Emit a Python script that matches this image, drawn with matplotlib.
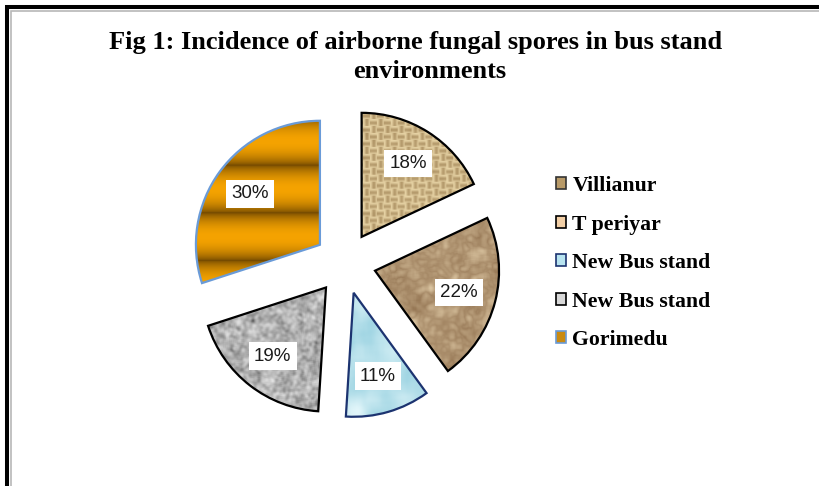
import numpy as np
import matplotlib.pyplot as plt
from matplotlib.patches import Patch, Rectangle
from matplotlib.colors import to_rgb
from matplotlib.transforms import IdentityTransform

title_1 = "Fig 1: Incidence of airborne fungal spores in bus stand"
title_2 = "environments"
sites = ["Villianur", "T periyar", "New Bus stand", "New Bus stand", "Gorimedu"]
shares = [18, 22, 11, 19, 30]

edge_cols = ["black", "black", "#1c3370", "black", "#6a9bd8"]
key_cols = ["#b89a68", "#f2cfa6", "#b8e4f0", "#d8d8d8", "#c98a12"]

W, H = 819, 486
fig = plt.figure(figsize=(W / 100, H / 100), dpi=100)
ax = fig.add_axes([0, 0, 1, 1])

wedges, _, pcts = ax.pie(shares, center=(345, H - 263), radius=124,
                         startangle=90, counterclock=False,
                         explode=[31] * len(shares),
                         autopct=lambda p: "%.0f%%" % p, pctdistance=0.7,
                         wedgeprops=dict(lw=1.6))

# textures (just decoration, fixed seed)
rng = np.random.default_rng(7)
n = 250
yy, xx = np.mgrid[0:n, 0:n]


def blur(a, k):
    out = a.copy()
    for _ in range(2):
        out = sum(np.roll(out, d, axis=1) for d in range(-k, k + 1)) / (2 * k + 1)
        out = sum(np.roll(out, d, axis=0) for d in range(-k, k + 1)) / (2 * k + 1)
    return out


def norm(a):
    return (a - a.min()) / (a.max() - a.min())


def tint(t, dark, light):
    d = np.array(to_rgb(dark))
    l = np.array(to_rgb(light))
    return np.clip(d + (l - d) * t[..., None], 0, 1)


noise = rng.random((n, n))
checker = ((xx // 7 + yy // 7) % 2) == 0
weave = np.where(checker, np.cos(2 * np.pi * yy / 7), np.cos(2 * np.pi * xx / 7))
burlap = tint(np.clip(0.62 + 0.22 * weave + 0.5 * (blur(noise, 2) - 0.5), 0, 1),
              "#8a6a3c", "#f4e2b4")

n2 = rng.random((n, n))
crumple = norm(0.6 * blur(n2, 5) + 0.4 * np.abs(blur(n2, 2) - 0.5)) ** 0.75
paper = tint(crumple, "#8e6e4c", "#ead6b2")

n3 = rng.random((n, n))
water = tint(norm(blur(n3, 7)), "#8ccbdc", "#e2f6fa")

n4 = rng.random((n, n))
granite = tint(norm(0.5 * blur(n4, 1) + 0.5 * blur(n4, 4)) ** 0.7, "#555555", "#f0f0f0")

stripe = 0.5 + 0.5 * np.cos(2 * np.pi * (yy - 20) / 48)
gold = tint(stripe ** 0.35, "#744a00", "#f5a300")

textures = [burlap, paper, water, granite, gold]

for w, tex, ec in zip(wedges, textures, edge_cols):
    cx, cy = w.center
    r = w.r
    im = ax.imshow(tex, extent=(cx - r, cx + r, cy - r, cy + r),
                   interpolation="bilinear", zorder=1)
    im.set_clip_path(w)
    w.set_facecolor("none")
    w.set_edgecolor(ec)
    w.set_zorder(2)

for t in pcts:
    t.set_fontfamily("Liberation Sans")
    t.set_fontsize(13.5)
    t.set_color("#1a1a1a")
    t.set_zorder(3)
    t.set_bbox(dict(boxstyle="square,pad=0.28", fc="white", ec="none"))

ax.set_xlim(0, W)
ax.set_ylim(0, H)
ax.axis("off")

fig.text(416 / W, 1 - 43 / H, title_1, ha="center", va="center",
         family="Liberation Serif", weight="bold", fontsize=19)
fig.text(430 / W, 1 - 72 / H, title_2, ha="center", va="center",
         family="Liberation Serif", weight="bold", fontsize=19)

handles = [Patch(facecolor=c, edgecolor=e, lw=1.2) for c, e in zip(key_cols, edge_cols)]
handles[0].set_edgecolor("#333333")
ax.legend(handles, sites, loc="upper left", bbox_to_anchor=(556, H - 176),
          bbox_transform=ax.transData, frameon=False, borderpad=0,
          borderaxespad=0, handlelength=0.47, handleheight=0.47,
          handletextpad=0.28, labelspacing=0.85,
          prop=dict(family="Liberation Serif", weight="bold", size=15.7))

# frame lines along top and left
fig.add_artist(Rectangle((7, -50), 3000, H - 7 + 50, fill=False, ec="black",
                         lw=2.9, transform=IdentityTransform()))
fig.add_artist(Rectangle((11, -50), 3000, H - 10.5 + 50, fill=False, ec="#b8b8b8",
                         lw=1.2, transform=IdentityTransform()))

fig.savefig("out.png", dpi=100)
